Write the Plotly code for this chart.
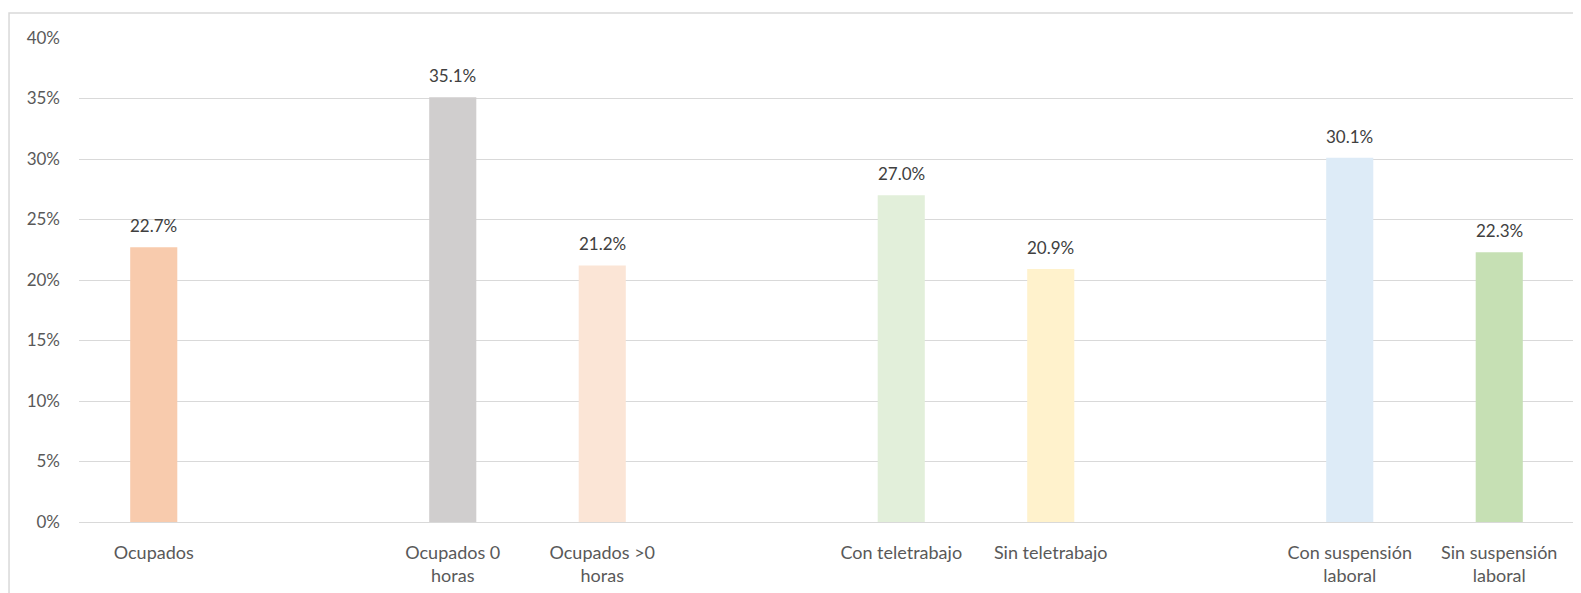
import plotly.graph_objects as go

categories = ["Ocupados", " ", "Ocupados 0<br>horas", "Ocupados >0<br>horas", "  ",
              "Con teletrabajo", "Sin teletrabajo", "   ",
              "Con suspensión<br>laboral", "Sin suspensión<br>laboral"]
values = [22.7, None, 35.1, 21.2, None, 27.0, 20.9, None, 30.1, 22.3]
colors = ["#F8CBAD", "#FFFFFF", "#D0CECE", "#FBE5D6", "#FFFFFF",
          "#E2EFDA", "#FFF2CC", "#FFFFFF", "#DDEBF7", "#C6E0B4"]
y_ticks = [0, 5, 10, 15, 20, 25, 30, 35, 40]

FONT = "Lato, Carlito, Calibri, sans-serif"

fig = go.Figure(go.Bar(
    x=categories,
    y=values,
    marker=dict(color=colors, line=dict(width=0)),
    cliponaxis=False,
    hoverinfo="skip",
))

for c, v in zip(categories, values):
    if v is None:
        continue
    fig.add_annotation(x=c, y=v, xref="x", yref="y", text="%.1f%%" % v,
                       showarrow=False, yanchor="bottom", yshift=9,
                       font=dict(family=FONT, size=17, color="#404040"))

fig.update_layout(
    width=1581, height=593,
    margin=dict(l=71, r=15, t=30, b=79),
    paper_bgcolor="white", plot_bgcolor="white",
    bargap=0.685,
    showlegend=False,
    font=dict(family=FONT, size=17, color="#595959"),
    xaxis=dict(type="category", categoryorder="array", categoryarray=categories,
               automargin=False,
               showgrid=False, showline=True, linecolor="#D9D9D9", linewidth=1,
               ticks="", ticklabelstandoff=14,
               tickfont=dict(family=FONT, size=18, color="#595959")),
    yaxis=dict(range=[0, 40], tickvals=y_ticks, automargin=False,
               ticktext=["%d%%" % t for t in y_ticks],
               showgrid=True, gridcolor="#D9D9D9", gridwidth=1,
               zeroline=False, showline=False, ticks="", ticklabelstandoff=18,
               tickfont=dict(family=FONT, size=17, color="#595959")),
    shapes=[dict(type="rect", xref="paper", yref="paper",
                 x0=-0.0468, x1=1.03, y0=-0.3, y1=1.0517,
                 line=dict(color="#D9D9D9", width=1.5), fillcolor="rgba(0,0,0,0)",
                 layer="below")],
)

fig.write_html("out.html")
